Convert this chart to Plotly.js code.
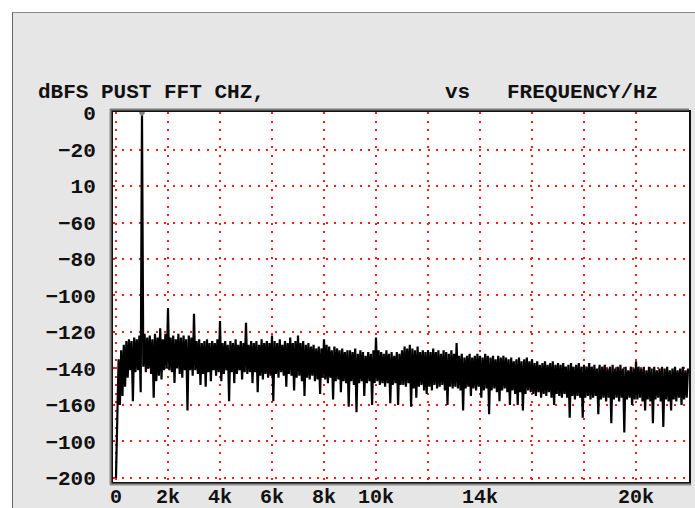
<!DOCTYPE html>
<html>
<head>
<meta charset="utf-8">
<script src="https://cdn.plot.ly/plotly-3.0.1.min.js"></script>
<style>
  html, body { margin: 0; padding: 0; background: #ffffff; }
  #wrap { position: relative; width: 695px; height: 508px; overflow: hidden; }
  #panel {
    position: absolute; left: 12px; top: 12px; right: 0; bottom: 0;
    background: #e6e6e6;
    border-left: 1px solid #666666;
    border-top: 1px solid #8a8a8a;
  }
  #chart { position: absolute; left: 0; top: 0; width: 695px; height: 508px; }
</style>
</head>
<body>
<div id="wrap">
  <div id="panel"></div>
  <div id="chart"></div>
</div>
<script>
// FFT of channel 2 after processing: one level per 50 Hz bin, 0 Hz .. 22 kHz
const binHz = 50;
const levelDb = [
  // 0 - 950 Hz
  -200, -158, -135, -160, -130, -155, -127, -150, -125, -145, -124, -141, -125, -158, -123, -142, -124, -141, -122, -153,
  // 1.0 - 1.95 kHz (1 kHz test tone)
  0, -139, -121, -142, -123, -140, -122, -143, -124, -156, -121, -147, -123, -144, -118, -146, -124, -141, -121, -140,
  // 2.0 - 2.95 kHz
  -107, -141, -123, -142, -122, -148, -124, -140, -121, -143, -123, -145, -122, -141, -124, -163, -122, -141, -123, -144,
  // 3.0 - 3.95 kHz
  -110, -141, -125, -143, -124, -149, -126, -143, -125, -150, -124, -142, -126, -147, -125, -141, -126, -144, -124, -142,
  // 4.0 - 4.95 kHz
  -114, -147, -126, -143, -125, -141, -127, -158, -125, -142, -126, -148, -124, -143, -127, -141, -125, -146, -126, -142,
  // 5.0 - 5.95 kHz
  -115, -143, -127, -142, -125, -148, -126, -142, -125, -153, -127, -144, -124, -146, -126, -143, -125, -145, -126, -144,
  // 6.0 - 6.95 kHz
  -122, -158, -125, -143, -126, -145, -124, -142, -127, -144, -125, -150, -126, -143, -123, -144, -126, -152, -125, -145,
  // 7.0 - 7.95 kHz
  -122, -144, -126, -147, -125, -155, -127, -145, -126, -146, -128, -144, -127, -147, -129, -146, -128, -154, -129, -145,
  // 8.0 - 8.95 kHz
  -124, -146, -127, -148, -128, -145, -130, -157, -128, -147, -129, -146, -130, -153, -129, -147, -131, -148, -130, -161,
  // 9.0 - 9.95 kHz
  -130, -147, -131, -149, -129, -164, -132, -148, -130, -147, -131, -155, -133, -148, -131, -147, -132, -160, -130, -148,
  // 10.0 - 10.95 kHz
  -123, -147, -130, -149, -131, -148, -132, -150, -130, -148, -132, -159, -131, -149, -133, -148, -131, -160, -132, -149,
  // 11.0 - 11.95 kHz
  -130, -149, -128, -150, -129, -148, -127, -161, -129, -151, -130, -156, -128, -150, -131, -149, -130, -152, -131, -154,
  // 12.0 - 12.95 kHz
  -130, -150, -131, -152, -129, -149, -131, -151, -130, -150, -132, -149, -130, -152, -131, -160, -132, -150, -130, -151,
  // 13.0 - 13.95 kHz
  -132, -150, -126, -151, -133, -152, -132, -163, -134, -151, -133, -150, -132, -155, -134, -151, -133, -152, -132, -150,
  // 14.0 - 14.95 kHz
  -133, -156, -134, -152, -132, -151, -133, -165, -134, -152, -133, -151, -135, -153, -133, -158, -134, -152, -133, -151,
  // 15.0 - 15.95 kHz
  -134, -153, -135, -160, -134, -152, -136, -154, -135, -160, -134, -153, -136, -163, -135, -154, -134, -152, -136, -153,
  // 16.0 - 16.95 kHz
  -135, -154, -137, -155, -136, -153, -138, -156, -137, -154, -136, -155, -138, -153, -137, -156, -136, -160, -138, -154,
  // 17.0 - 17.95 kHz
  -137, -155, -138, -156, -137, -154, -139, -156, -138, -167, -137, -155, -139, -157, -138, -155, -137, -156, -139, -167,
  // 18.0 - 18.95 kHz
  -138, -156, -139, -155, -137, -157, -139, -156, -138, -155, -140, -165, -138, -157, -139, -156, -138, -158, -140, -156,
  // 19.0 - 19.95 kHz
  -139, -170, -138, -157, -140, -156, -139, -158, -138, -156, -140, -175, -139, -157, -141, -156, -139, -160, -140, -157,
  // 20.0 - 20.95 kHz
  -136, -157, -139, -156, -140, -158, -139, -163, -141, -157, -139, -158, -140, -170, -139, -157, -141, -156, -140, -158,
  // 21.0 - 21.95 kHz
  -139, -172, -140, -157, -139, -158, -141, -163, -140, -157, -139, -158, -141, -156, -140, -160, -139, -157, -141, -156,
  // 22.0 kHz
  -140
];
const freqHz = levelDb.map((_, i) => i * binHz);

// cursor sitting on the top of the tone
const cursorHz = [1000];
const cursorDb = [0];

const xTickVals = [0, 2000, 4000, 6000, 8000, 10000, 12000, 14000, 16000, 18000, 20000, 22000];
const xTickText = ['0', '2k', '4k', '6k', '8k', '10k', '', '14k', '', '', '20k', ''];
const yTickVals = [0, -20, -40, -60, -80, -100, -120, -140, -160, -180, -200];
const yTickText = ['0', '\u221220', '10', '\u221260', '\u221280', '\u2212100', '\u2212120', '\u2212140', '\u2212160', '\u2212100', '\u2212200'];

const monoFont = { family: 'Liberation Mono, DejaVu Sans Mono, monospace', size: 21, color: '#111111', weight: 'bold' };
const xTickFont = { family: 'Liberation Mono, DejaVu Sans Mono, monospace', size: 20, color: '#111111', weight: 'bold' };

// plot area geometry (pixels) used to place the heading pieces
const L = 113, W = 576, T = 112, H = 370;
const px2x = p => (p - L) / W;
const py2y = p => (T + H - p) / H;

const traces = [
  {
    x: freqHz, y: levelDb, type: 'scatter', mode: 'lines',
    line: { color: '#000000', width: 2.2 },
    hoverinfo: 'skip'
  },
  {
    x: cursorHz, y: cursorDb, type: 'scatter', mode: 'markers',
    marker: { color: '#808080', size: 5, symbol: 'diamond' },
    hoverinfo: 'skip'
  }
];

const gridDash = '2px,6.5px';

// bevel around the plot frame: grey shade outside the left, top and bottom edges
const bevel = [
  { type: 'line', xref: 'paper', yref: 'paper', xsizemode: 'pixel', xanchor: 0, x0: -2.5, x1: -2.5,
    y0: -0.008, y1: 1.008, line: { color: '#8c8c8c', width: 2 }, layer: 'above' },
  { type: 'line', xref: 'paper', yref: 'paper', ysizemode: 'pixel', yanchor: 1, y0: 2.5, y1: 2.5,
    x0: -0.005, x1: 1.0, line: { color: '#7a7a7a', width: 2 }, layer: 'above' },
  { type: 'line', xref: 'paper', yref: 'paper', ysizemode: 'pixel', yanchor: 0, y0: -2.5, y1: -2.5,
    x0: -0.005, x1: 1.004, line: { color: '#8c8c8c', width: 2 }, layer: 'above' }
];

const layout = {
  width: 695, height: 508,
  margin: { l: L, r: 695 - L - W, t: T, b: 508 - T - H, pad: 0 },
  paper_bgcolor: 'rgba(0,0,0,0)',
  plot_bgcolor: '#ffffff',
  showlegend: false,
  font: monoFont,
  shapes: bevel,
  xaxis: {
    range: [-115, 22038],
    tickmode: 'array', tickvals: xTickVals, ticktext: xTickText,
    showgrid: true, gridcolor: '#ff1a1a', gridwidth: 2, griddash: gridDash,
    zeroline: false,
    showline: true, linecolor: '#111111', linewidth: 2, mirror: true,
    ticks: '', ticklabelstandoff: -5,
    tickfont: xTickFont, fixedrange: true
  },
  yaxis: {
    range: [-202.2, 0.55],
    tickmode: 'array', tickvals: yTickVals, ticktext: yTickText,
    showgrid: true, gridcolor: '#ff1a1a', gridwidth: 2, griddash: gridDash,
    zeroline: false,
    showline: true, linecolor: '#111111', linewidth: 2, mirror: true,
    ticks: '', ticklabelstandoff: 11,
    tickfont: monoFont, fixedrange: true
  },
  annotations: [
    { text: 'dBFS PUST FFT CHZ,', xref: 'paper', yref: 'paper', x: px2x(36), y: py2y(92),
      xanchor: 'left', yanchor: 'middle', showarrow: false, font: monoFont },
    { text: 'vs', xref: 'paper', yref: 'paper', x: px2x(443), y: py2y(92),
      xanchor: 'left', yanchor: 'middle', showarrow: false, font: monoFont },
    { text: 'FREQUENCY/Hz', xref: 'paper', yref: 'paper', x: px2x(505), y: py2y(92),
      xanchor: 'left', yanchor: 'middle', showarrow: false, font: monoFont }
  ]
};

Plotly.newPlot('chart', traces, layout, { displayModeBar: false, staticPlot: true });
</script>
</body>
</html>
